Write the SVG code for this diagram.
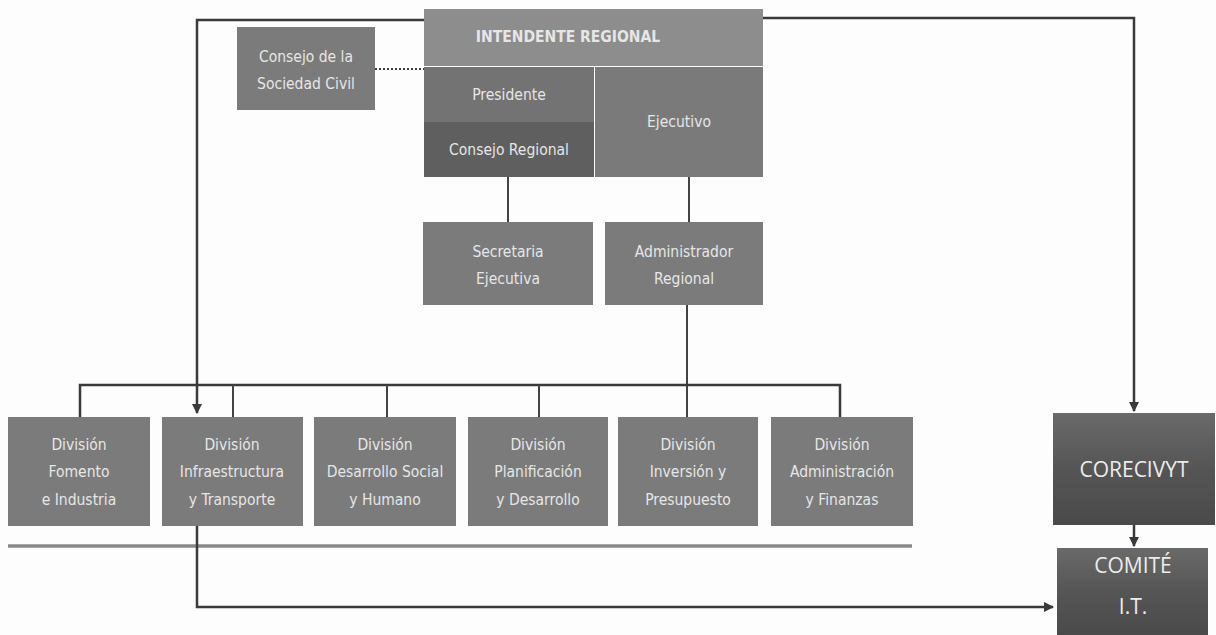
<svg xmlns="http://www.w3.org/2000/svg" width="1216" height="635" viewBox="0 0 1216 635">
<style>
.box{fill:#7b7b7b;}
.t{font-family:"DejaVu Sans Condensed","Liberation Sans Narrow","Liberation Sans",sans-serif;font-stretch:condensed;font-size:15.5px;fill:#e6e6e6;text-anchor:middle;dominant-baseline:central;}
.big{font-family:"Open Sans","Liberation Sans",sans-serif;font-size:21px;fill:#ececec;text-anchor:middle;dominant-baseline:central;}
.ln{fill:none;stroke:#3a3a3a;stroke-width:2.5;}
.thin{fill:none;stroke:#444;stroke-width:2;}
</style>
<defs>
<marker id="ah" viewBox="0 0 10 10" refX="9" refY="5" markerWidth="4.2" markerHeight="4.2" orient="auto" markerUnits="strokeWidth">
<path d="M0,0 L10,5 L0,10 z" fill="#3a3a3a"/>
</marker>
<linearGradient id="dg" x1="0" y1="0" x2="0" y2="1">
<stop offset="0" stop-color="#6a6a6a"/>
<stop offset="0.5" stop-color="#555"/>
<stop offset="1" stop-color="#4a4a4a"/>
</linearGradient>
</defs>
<rect width="1216" height="635" fill="#fdfdfd"/>
<g id="connectors">
<path class="ln" d="M425,20 H197 V413" marker-end="url(#ah)"/>
<path class="ln" d="M763,18 H1134 V411" marker-end="url(#ah)"/>
<path class="thin" d="M375,69 H424" stroke-dasharray="2,2"/>
<path class="thin" d="M508,177 V222"/>
<path class="thin" d="M689,177 V222"/>
<path class="thin" d="M687,305 V417"/>
<path class="ln" d="M80,417 V385 H840 V417"/>
<path class="thin" d="M233,385 V417 M387,385 V417 M539,385 V417"/>
<path fill="none" stroke="#888" stroke-width="3.5" d="M8,546 H912"/>
<path class="ln" d="M197,525 V607 H1053" marker-end="url(#ah)"/>
<path class="ln" d="M1134,525 V546" marker-end="url(#ah)"/>
</g>
<g id="intendente">
<rect x="424" y="9" width="339" height="57" fill="#8d8d8d"/>
<text class="t" x="568" y="37" style="font-weight:bold">INTENDENTE REGIONAL</text>
</g>
<g id="presidente">
<rect x="424" y="67" width="170" height="55" fill="#737373"/>
<text class="t" x="509" y="95">Presidente</text>
</g>
<g id="consejo-regional">
<rect x="424" y="122" width="170" height="55" fill="#5f5f5f"/>
<text class="t" x="509" y="150">Consejo Regional</text>
</g>
<g id="ejecutivo">
<rect x="595" y="67" width="168" height="110" fill="#7a7a7a"/>
<text class="t" x="679" y="122">Ejecutivo</text>
</g>
<g id="consejo-sociedad">
<rect x="237" y="27" width="138" height="83" class="box"/>
<text class="t" x="306" y="57">Consejo de la</text>
<text class="t" x="306" y="84">Sociedad Civil</text>
</g>
<g id="secretaria">
<rect x="423" y="222" width="170" height="83" class="box"/>
<text class="t" x="508" y="252">Secretaria</text>
<text class="t" x="508" y="279">Ejecutiva</text>
</g>
<g id="administrador">
<rect x="605" y="222" width="158" height="83" class="box"/>
<text class="t" x="684" y="252">Administrador</text>
<text class="t" x="684" y="279">Regional</text>
</g>
<g id="div-fomento">
<rect x="8" y="417" width="142" height="109" class="box"/>
<text class="t" x="79" y="445">División</text>
<text class="t" x="79" y="472">Fomento</text>
<text class="t" x="79" y="500">e Industria</text>
</g>
<g id="div-infraestructura">
<rect x="162" y="417" width="141" height="109" class="box"/>
<text class="t" x="232" y="445">División</text>
<text class="t" x="232" y="472">Infraestructura</text>
<text class="t" x="232" y="500">y Transporte</text>
</g>
<g id="div-desarrollo-social">
<rect x="314" y="417" width="142" height="109" class="box"/>
<text class="t" x="385" y="445">División</text>
<text class="t" x="385" y="472">Desarrollo Social</text>
<text class="t" x="385" y="500">y Humano</text>
</g>
<g id="div-planificacion">
<rect x="468" y="417" width="140" height="109" class="box"/>
<text class="t" x="538" y="445">División</text>
<text class="t" x="538" y="472">Planificación</text>
<text class="t" x="538" y="500">y Desarrollo</text>
</g>
<g id="div-inversion">
<rect x="618" y="417" width="140" height="109" class="box"/>
<text class="t" x="688" y="445">División</text>
<text class="t" x="688" y="472">Inversión y</text>
<text class="t" x="688" y="500">Presupuesto</text>
</g>
<g id="div-administracion">
<rect x="771" y="417" width="142" height="109" class="box"/>
<text class="t" x="842" y="445">División</text>
<text class="t" x="842" y="472">Administración</text>
<text class="t" x="842" y="500">y Finanzas</text>
</g>
<g id="corecivyt">
<rect x="1053" y="413" width="162" height="112" fill="url(#dg)"/>
<text class="big" x="1134" y="469">CORECIVYT</text>
</g>
<g id="comite">
<rect x="1057" y="548" width="151" height="87" fill="url(#dg)"/>
<text class="big" x="1133" y="565">COMITÉ</text>
<text class="big" x="1133" y="606">I.T.</text>
</g>
</svg>
